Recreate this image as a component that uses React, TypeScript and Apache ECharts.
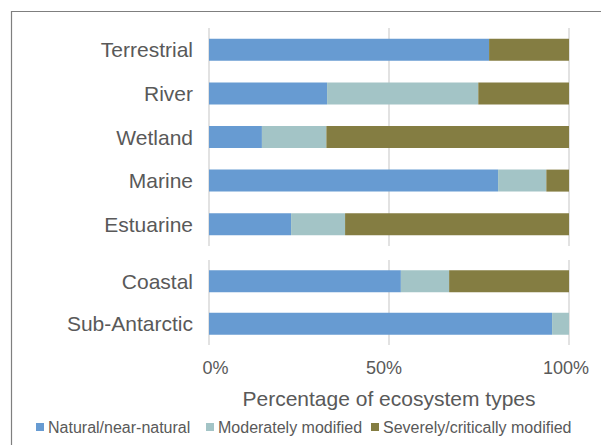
import React, { useEffect, useRef } from "react";
import * as echarts from "echarts";

const topCategories = ["Terrestrial", "River", "Wetland", "Marine", "Estuarine"];
const topNatural = [77.8, 32.8, 14.7, 80.3, 22.8];
const topModerate = [0, 42.0, 17.9, 13.4, 15.0];
const topSevere = [22.2, 25.2, 67.4, 6.3, 62.2];

const bottomCategories = ["Coastal", "Sub-Antarctic"];
const bottomNatural = [53.3, 95.3];
const bottomModerate = [13.4, 4.7];
const bottomSevere = [33.3, 0];

const seriesNames = ["Natural/near-natural", "Moderately modified", "Severely/critically modified"];
const colors = ["#679BD2", "#A3C4C6", "#847D42"];
const tickLabels: Record<number, string> = { 0: "0%", 50: "50%", 100: "100%" };
const tickRich: Record<number, string> = { 0: "a", 50: "b", 100: "c" };

const FONT = "'Liberation Sans', Arial, sans-serif";
const TEXT = "#595959";
const GRIDLINE = "#D9D9D9";

export default function App() {
  const ref = useRef<HTMLDivElement>(null);
  useEffect(() => {
    if (!ref.current) return;
    const chart = echarts.init(ref.current, undefined, { renderer: "svg" });
    const mkSeries = (name: string, data: number[], idx: number, color: string, stack: string) => ({
      name,
      type: "bar",
      stack,
      xAxisIndex: idx,
      yAxisIndex: idx,
      barWidth: 22,
      data,
      itemStyle: { color },
    });
    const xAxisBase = {
      type: "value",
      min: 0,
      max: 100,
      interval: 50,
      axisLine: { show: false },
      axisTick: { show: false },
      splitLine: { show: true, lineStyle: { color: GRIDLINE, width: 1.5 } },
    };
    const yAxisBase = {
      type: "category",
      inverse: true,
      axisLine: { show: false },
      axisTick: { show: false },
      axisLabel: { color: TEXT, fontSize: 21, fontFamily: FONT, margin: 16 },
    };
    const legendBase = (name: string, left: number) => ({
      data: [name],
      left,
      top: 419,
      orient: "horizontal",
      icon: "rect",
      itemWidth: 8,
      itemHeight: 8,
      itemGap: 0,
      padding: 0,
      textStyle: { color: TEXT, fontSize: 16, fontFamily: FONT, padding: [0, 0, 0, -1] },
    });
    chart.setOption({
      animation: false,
      backgroundColor: "#ffffff",
      textStyle: { fontFamily: FONT },
      graphic: [
        {
          type: "rect",
          shape: { x: 11.5, y: 11.5, width: 800, height: 600 },
          style: { fill: "none", stroke: "#7F7F7F", lineWidth: 1.2 },
          silent: true,
        },
      ],
      legend: [
        legendBase(seriesNames[0], 36),
        legendBase(seriesNames[1], 206),
        legendBase(seriesNames[2], 371),
      ],
      grid: [
        { left: 209, width: 360, top: 28, height: 218 },
        { left: 209, width: 360, top: 260, height: 85 },
      ],
      xAxis: [
        { ...xAxisBase, gridIndex: 0, axisLabel: { show: false } },
        {
          ...xAxisBase,
          gridIndex: 1,
          name: "Percentage of ecosystem types",
          nameLocation: "middle",
          nameGap: 43,
          nameTextStyle: { color: TEXT, fontSize: 21, fontFamily: FONT },
          axisLabel: {
            color: TEXT,
            fontSize: 18,
            fontFamily: FONT,
            margin: 14,
            formatter: (v: number) => `{${tickRich[v]}|${tickLabels[v]}}`,
            rich: {
              a: { color: TEXT, fontSize: 18, fontFamily: FONT, padding: [0, 0, 0, 13] },
              b: { color: TEXT, fontSize: 18, fontFamily: FONT, padding: [0, 10, 0, 0] },
              c: { color: TEXT, fontSize: 18, fontFamily: FONT, padding: [0, 6, 0, 0] },
            },
          },
        },
      ],
      yAxis: [
        { ...yAxisBase, gridIndex: 0, data: topCategories },
        { ...yAxisBase, gridIndex: 1, data: bottomCategories },
      ],
      series: [
        mkSeries(seriesNames[0], topNatural, 0, colors[0], "top"),
        mkSeries(seriesNames[1], topModerate, 0, colors[1], "top"),
        mkSeries(seriesNames[2], topSevere, 0, colors[2], "top"),
        mkSeries(seriesNames[0], bottomNatural, 1, colors[0], "bottom"),
        mkSeries(seriesNames[1], bottomModerate, 1, colors[1], "bottom"),
        mkSeries(seriesNames[2], bottomSevere, 1, colors[2], "bottom"),
      ],
    });
    return () => chart.dispose();
  }, []);
  return (
    <div
      ref={ref}
      style={{ position: "fixed", left: 0, top: 0, width: 601, height: 445 }}
    />
  );
}
